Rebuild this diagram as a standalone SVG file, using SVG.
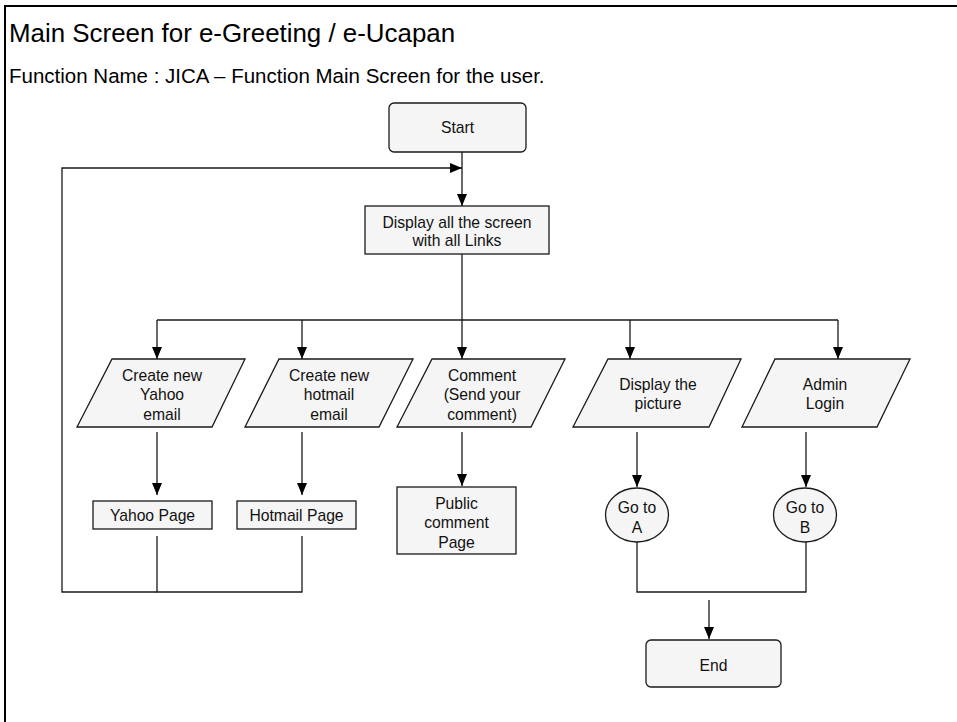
<svg xmlns="http://www.w3.org/2000/svg" width="957" height="722" viewBox="0 0 957 722">
<style>
.n{fill:#f5f5f5;stroke:#1a1a1a;stroke-width:1.3}
.t{font-family:"Liberation Sans",Arial,sans-serif;font-size:15.7px;fill:#111;text-anchor:middle}
.c{fill:none;stroke:#1a1a1a;stroke-width:1.3}
.h{font-family:"Liberation Sans",Arial,sans-serif;fill:#000}
</style>
<defs>
<marker id="ar" markerUnits="userSpaceOnUse" markerWidth="12" markerHeight="10" refX="12" refY="5" orient="auto">
<path d="M0,0 L12,5 L0,10 z" fill="#000"/>
</marker>
</defs>
<rect width="957" height="722" fill="#fff"/>
<rect x="5" y="6" width="1000" height="800" fill="none" stroke="#000" stroke-width="2"/>
<text class="h" x="9" y="42" font-size="25.9">Main Screen for e-Greeting / e-Ucapan</text>
<text class="h" x="9" y="83" font-size="20.5">Function Name : JICA – Function Main Screen for the user.</text>

<g id="connectors">
<path class="c" d="M462,152 V206" marker-end="url(#ar)"/>
<path class="c" d="M157,592 H62 V168 H462" marker-end="url(#ar)"/>
<path class="c" d="M462,254 V359" marker-end="url(#ar)"/>
<path class="c" d="M157,320 H838"/>
<path class="c" d="M157,320 V359" marker-end="url(#ar)"/>
<path class="c" d="M302,320 V359" marker-end="url(#ar)"/>
<path class="c" d="M630,320 V359" marker-end="url(#ar)"/>
<path class="c" d="M838,320 V359" marker-end="url(#ar)"/>
<path class="c" d="M157,432 V495" marker-end="url(#ar)"/>
<path class="c" d="M302,432 V495" marker-end="url(#ar)"/>
<path class="c" d="M462,432 V486" marker-end="url(#ar)"/>
<path class="c" d="M637,432 V487" marker-end="url(#ar)"/>
<path class="c" d="M806,432 V487" marker-end="url(#ar)"/>
<path class="c" d="M157,536 V592 H302 V536"/>
<path class="c" d="M637,542 V592 H806 V542"/>
<path class="c" d="M709,600 V639" marker-end="url(#ar)"/>
</g>

<g id="start">
<rect class="n" x="389" y="103" width="137" height="49" rx="5"/>
<text class="t" x="457.5" y="133">Start</text>
</g>
<g id="display">
<rect class="n" x="365" y="206" width="184" height="48"/>
<text class="t" x="457" y="228">Display all the screen</text>
<text class="t" x="457" y="246">with all Links</text>
</g>
<g id="yahoo">
<polygon class="n" points="112,359 245,359 212,427 77,427"/>
<text class="t" x="162" y="381">Create new</text>
<text class="t" x="162" y="400">Yahoo</text>
<text class="t" x="162" y="420">email</text>
</g>
<g id="hotmail">
<polygon class="n" points="279,359 413,359 379,427 245,427"/>
<text class="t" x="329" y="381">Create new</text>
<text class="t" x="329" y="400">hotmail</text>
<text class="t" x="329" y="420">email</text>
</g>
<g id="comment">
<polygon class="n" points="432,359 565,359 531,427 397,427"/>
<text class="t" x="482" y="381">Comment</text>
<text class="t" x="482" y="400">(Send your</text>
<text class="t" x="482" y="420">comment)</text>
</g>
<g id="picture">
<polygon class="n" points="608,359 741,359 709,427 573,427"/>
<text class="t" x="658" y="390">Display the</text>
<text class="t" x="658" y="409">picture</text>
</g>
<g id="admin">
<polygon class="n" points="775,359 910,359 877,427 742,427"/>
<text class="t" x="825" y="390">Admin</text>
<text class="t" x="825" y="409">Login</text>
</g>
<g id="yahoo-page">
<rect class="n" x="93" y="501" width="119" height="28"/>
<text class="t" x="152.5" y="520.5">Yahoo Page</text>
</g>
<g id="hotmail-page">
<rect class="n" x="237" y="501" width="119" height="28"/>
<text class="t" x="296.5" y="520.5">Hotmail Page</text>
</g>
<g id="public-page">
<rect class="n" x="397" y="487" width="119" height="67"/>
<text class="t" x="456.5" y="508.5">Public</text>
<text class="t" x="456.5" y="528">comment</text>
<text class="t" x="456.5" y="547.5">Page</text>
</g>
<g id="goto-a">
<ellipse class="n" cx="637" cy="515" rx="31.5" ry="27"/>
<text class="t" x="637" y="512.5">Go to</text>
<text class="t" x="637" y="532.5">A</text>
</g>
<g id="goto-b">
<ellipse class="n" cx="805" cy="515" rx="31.5" ry="27"/>
<text class="t" x="805" y="512.5">Go to</text>
<text class="t" x="805" y="532.5">B</text>
</g>
<g id="end">
<rect class="n" x="646" y="640" width="135" height="47" rx="5"/>
<text class="t" x="713.5" y="670.5">End</text>
</g>
</svg>
